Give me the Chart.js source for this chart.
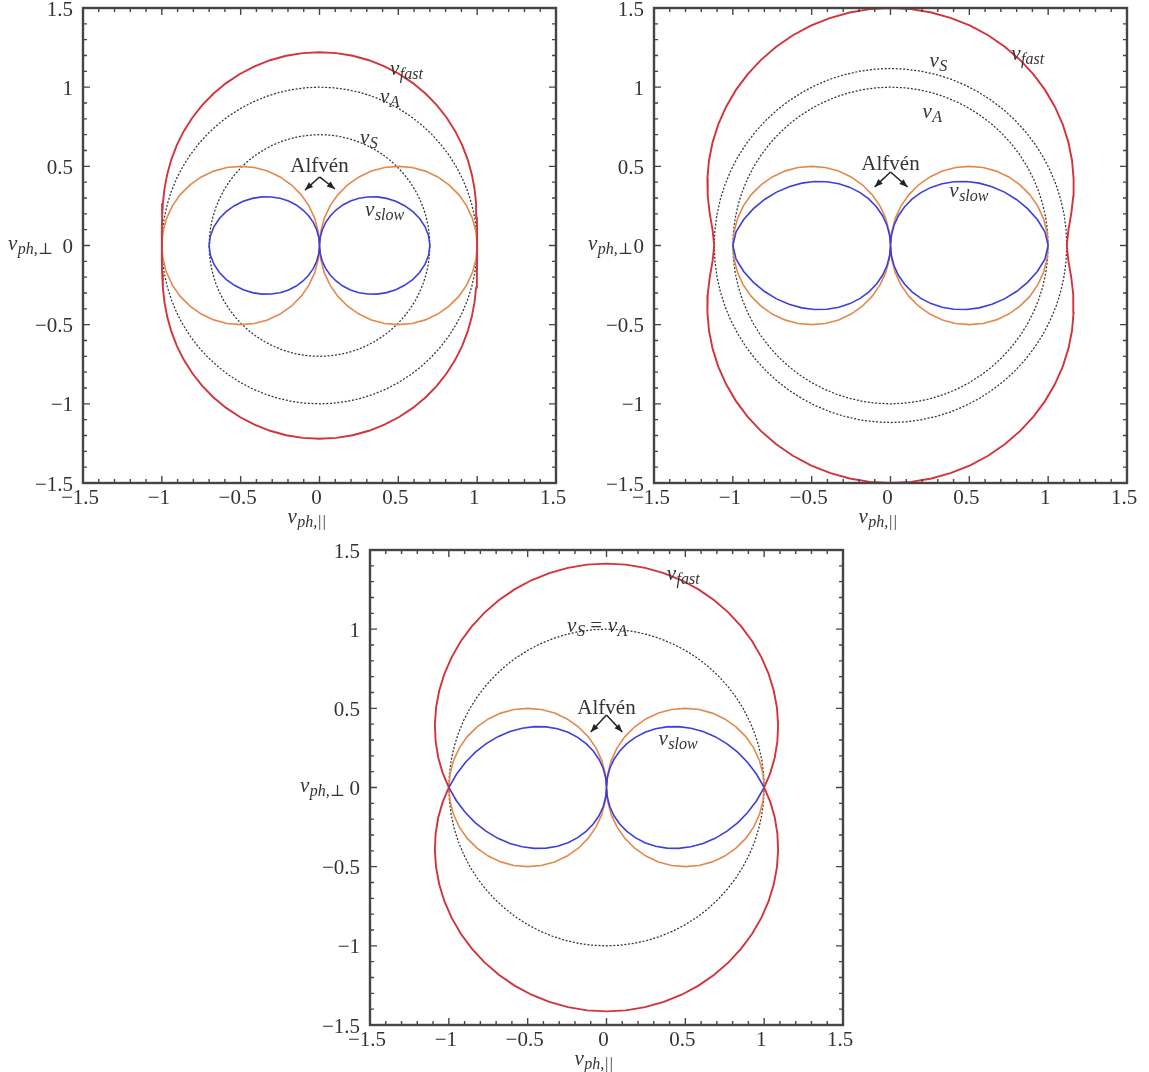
<!DOCTYPE html>
<html><head><meta charset="utf-8">
<script src="https://cdn.jsdelivr.net/npm/chart.js@4.4.1/dist/chart.umd.min.js"></script>
<style>
html,body{margin:0;padding:0;background:#fff;overflow:hidden;width:1149px;height:1072px}
canvas{position:absolute}
</style></head><body>
<canvas id="c1" width="575" height="530" style="left:0;top:0"></canvas>
<canvas id="c2" width="575" height="530" style="left:571px;top:0"></canvas>
<canvas id="c3" width="575" height="530" style="left:287px;top:542px"></canvas>
<script>
// Polar angle (degrees from the parallel axis) for one quadrant; curves are symmetric
const angles = [0,5,10,15,20,25,30,35,40,45,50,55,60,65,70,75,80,85,90];
// Phase speed read at those angles
const fast1 = [1.00000,1.00359,1.01365,1.02850,1.04632,1.06563,1.08537,1.10482,1.12347,1.14096,1.15706,1.17156,1.18434,1.19530,1.20436,1.21146,1.21656,1.21963,1.22066];
const slow1 = [0.70000,0.69484,0.68008,0.65741,0.62866,0.59534,0.55854,0.51900,0.47730,0.43382,0.38888,0.34271,0.29552,0.24750,0.19878,0.14955,0.09992,0.05000,0];
const fast2 = [1.11803,1.13291,1.16443,1.20009,1.23584,1.27034,1.30301,1.33355,1.36178,1.38758,1.41086,1.43155,1.44958,1.46491,1.47750,1.48733,1.49436,1.49859,1.50000];
const slow2 = [1.00000,0.98311,0.94557,0.89988,0.85012,0.79765,0.74308,0.68677,0.62893,0.56975,0.50938,0.44796,0.38564,0.32254,0.25881,0.19455,0.12992,0.06504,0];
const fast3 = [1.00000,1.04267,1.08335,1.12197,1.15846,1.19274,1.22474,1.25442,1.28171,1.30656,1.32892,1.34876,1.36603,1.38069,1.39273,1.40212,1.40883,1.41286,1.41421];
const slow3 = [1.00000,0.95543,0.90904,0.86092,0.81116,0.75986,0.70711,0.65301,0.59767,0.54120,0.48369,0.42526,0.36602,0.30609,0.24558,0.18458,0.12325,0.06173,0];
const alfven = [1.000,0.996,0.985,0.966,0.940,0.906,0.866,0.819,0.766,0.707,0.643,0.574,0.500,0.423,0.342,0.259,0.174,0.087,0];
// Radii of the dotted reference circles
const dashed1 = [1.0, 0.7];
const dashed2 = [1.0, 1.118];
const dashed3 = [1.0];
// Tick labels
const tickValues = [-1.5,-1,-0.5,0,0.5,1,1.5];

const RED = '#d1343c', ORANGE = '#e3894a', BLUE = '#3d3fd8', INK = '#333333';
const SERIF = "'Liberation Serif', 'DejaVu Serif', serif";

function polarPoints(r) {
  const q = angles.map((a, i) => ({c: Math.cos(a * Math.PI / 180) * r[i], s: Math.sin(a * Math.PI / 180) * r[i]}));
  const pts = [];
  for (let i = 0; i < q.length; i++) pts.push({x: q[i].c, y: q[i].s});
  for (let i = q.length - 2; i >= 0; i--) pts.push({x: -q[i].c, y: q[i].s});
  for (let i = 1; i < q.length; i++) pts.push({x: -q[i].c, y: -q[i].s});
  for (let i = q.length - 2; i >= 0; i--) pts.push({x: q[i].c, y: -q[i].s});
  return pts;
}

function fmt(v) { return (v < 0 ? '\u2212' : '') + Math.abs(v); }

function drawMath(ctx, x, y, parts) {
  let cx = x;
  for (const [t, kind] of parts) {
    let size = 21, style = 'italic', dy = 0;
    if (kind === 's') { size = 16; dy = 4; }
    if (kind === 'r') { style = 'normal'; }
    ctx.font = style + ' ' + size + 'px ' + SERIF;
    ctx.fillText(t, cx, y + dy);
    cx += ctx.measureText(t).width + (kind === 's' ? 0 : 0.5);
  }
}

function arrowHead(ctx, x0, y0, x1, y1) {
  const ang = Math.atan2(y1 - y0, x1 - x0), L = 8, W = 3.2;
  ctx.beginPath();
  ctx.moveTo(x1, y1);
  ctx.lineTo(x1 - L * Math.cos(ang) + W * Math.sin(ang), y1 - L * Math.sin(ang) - W * Math.cos(ang));
  ctx.lineTo(x1 - L * Math.cos(ang) - W * Math.sin(ang), y1 - L * Math.sin(ang) + W * Math.cos(ang));
  ctx.closePath();
  ctx.fill();
}

const framePlugin = {
  id: 'frame',
  afterDraw(chart, args, o) {
    const {ctx, chartArea: a, scales: {x, y}} = chart;
    ctx.save();
    ctx.strokeStyle = '#454545';
    ctx.lineWidth = 1.4;
    for (let i = -15; i <= 15; i++) {
      const v = i / 10, len = (i % 5 === 0) ? 7 : 4;
      const px = x.getPixelForValue(v), py = y.getPixelForValue(v);
      ctx.beginPath();
      ctx.moveTo(a.left, py); ctx.lineTo(a.left + len, py);
      ctx.moveTo(a.right, py); ctx.lineTo(a.right - len, py);
      ctx.moveTo(px, a.bottom); ctx.lineTo(px, a.bottom - len);
      ctx.moveTo(px, a.top); ctx.lineTo(px, a.top + len);
      ctx.stroke();
    }
    ctx.lineWidth = 2.4;
    ctx.strokeRect(a.left, a.top, a.right - a.left, a.bottom - a.top);

    ctx.fillStyle = INK;
    ctx.textAlign = 'left';
    ctx.textBaseline = 'alphabetic';
    // axis titles
    drawMath(ctx, a.left - o.yTitleDx, y.getPixelForValue(0) + 4, [['v', 'i'], ['ph,\u22A5', 's']]);
    drawMath(ctx, x.getPixelForValue(0) - 32, a.bottom + 40, [['v', 'i'], ['ph,||', 's']]);
    // curve labels
    for (const l of o.labels) drawMath(ctx, x.getPixelForValue(l.x), y.getPixelForValue(l.y), l.parts);
    // Alfven label + arrows
    ctx.font = '21px ' + SERIF;
    ctx.textAlign = 'center';
    ctx.fillText('Alfv\u00e9n', x.getPixelForValue(o.alf.x), y.getPixelForValue(o.alf.y));
    const ax = x.getPixelForValue(o.apex[0]), ay = y.getPixelForValue(o.apex[1]);
    ctx.strokeStyle = '#222'; ctx.fillStyle = '#222'; ctx.lineWidth = 1.5;
    for (const e of o.ends) {
      const ex = x.getPixelForValue(e[0]), ey = y.getPixelForValue(e[1]);
      ctx.beginPath(); ctx.moveTo(ax, ay); ctx.lineTo(ex, ey); ctx.stroke();
      arrowHead(ctx, ax, ay, ex, ey);
    }
    ctx.restore();
  }
};

function axis(isX) {
  return {
    type: 'linear', min: -1.5, max: 1.5,
    afterFit(s) {
      if (isX) { s.height = 47; s.paddingLeft = 0; s.paddingRight = 0; }
      else { s.width = 83; s.paddingTop = 0; s.paddingBottom = 0; }
    },
    afterBuildTicks(s) { s.ticks = tickValues.map(v => ({value: v})); },
    grid: {display: false, drawTicks: false},
    border: {display: false},
    ticks: {padding: isX ? 3 : 10, labelOffset: isX ? -3 : 2, color: INK, font: {family: SERIF, size: 21}, callback: fmt, maxRotation: 0, autoSkip: false}
  };
}

function makeChart(id, fast, slow, dashed, ann) {
  const ds = [
    {data: polarPoints(fast), borderColor: RED, borderWidth: 1.9},
    {data: polarPoints(slow), borderColor: BLUE, borderWidth: 1.6},
    {data: polarPoints(alfven), borderColor: ORANGE, borderWidth: 1.6},
    ...dashed.map(R => ({data: polarPoints(angles.map(() => R)), borderColor: '#333', borderWidth: 1.25, borderDash: [2, 1.7]}))
  ].map(d => Object.assign(d, {showLine: true, pointRadius: 0, tension: 0, fill: false}));
  new Chart(document.getElementById(id), {
    type: 'scatter',
    data: {datasets: ds},
    options: {
      responsive: false, animation: false,
      layout: {padding: {left: 0, top: 8, right: 19, bottom: 0}},
      scales: {x: axis(true), y: axis(false)},
      plugins: {legend: {display: false}, tooltip: {enabled: false}, frame: ann}
    },
    plugins: [framePlugin]
  });
}

makeChart('c1', fast1, slow1, dashed1, {
  yTitleDx: 75,
  labels: [
    {x: 0.447, y: 1.078, parts: [['v', 'i'], ['fast', 's']]},
    {x: 0.384, y: 0.90, parts: [['v', 'i'], ['A', 's']]},
    {x: 0.257, y: 0.641, parts: [['v', 'i'], ['S', 's']]},
    {x: 0.289, y: 0.186, parts: [['v', 'i'], ['slow', 's']]}
  ],
  alf: {x: 0.0, y: 0.464}, apex: [0, 0.433], ends: [[-0.092, 0.35], [0.098, 0.357]]
});
makeChart('c2', fast2, slow2, dashed2, {
  yTitleDx: 66,
  labels: [
    {x: 0.766, y: 1.172, parts: [['v', 'i'], ['fast', 's']]},
    {x: 0.247, y: 1.128, parts: [['v', 'i'], ['S', 's']]},
    {x: 0.203, y: 0.805, parts: [['v', 'i'], ['A', 's']]},
    {x: 0.373, y: 0.306, parts: [['v', 'i'], ['slow', 's']]}
  ],
  alf: {x: 0.0, y: 0.477}, apex: [0, 0.464], ends: [[-0.1, 0.37], [0.108, 0.37]]
});
makeChart('c3', fast3, slow3, dashed3, {
  yTitleDx: 70,
  labels: [
    {x: 0.382, y: 1.311, parts: [['v', 'i'], ['fast', 's']]},
    {x: -0.25, y: 0.982, parts: [['v', 'i'], ['S', 's'], [' = ', 'r'], ['v', 'i'], ['A', 's']]},
    {x: 0.33, y: 0.268, parts: [['v', 'i'], ['slow', 's']]}
  ],
  alf: {x: 0.0, y: 0.464}, apex: [0, 0.458], ends: [[-0.1, 0.35], [0.1, 0.35]]
});
</script>
</body></html>
